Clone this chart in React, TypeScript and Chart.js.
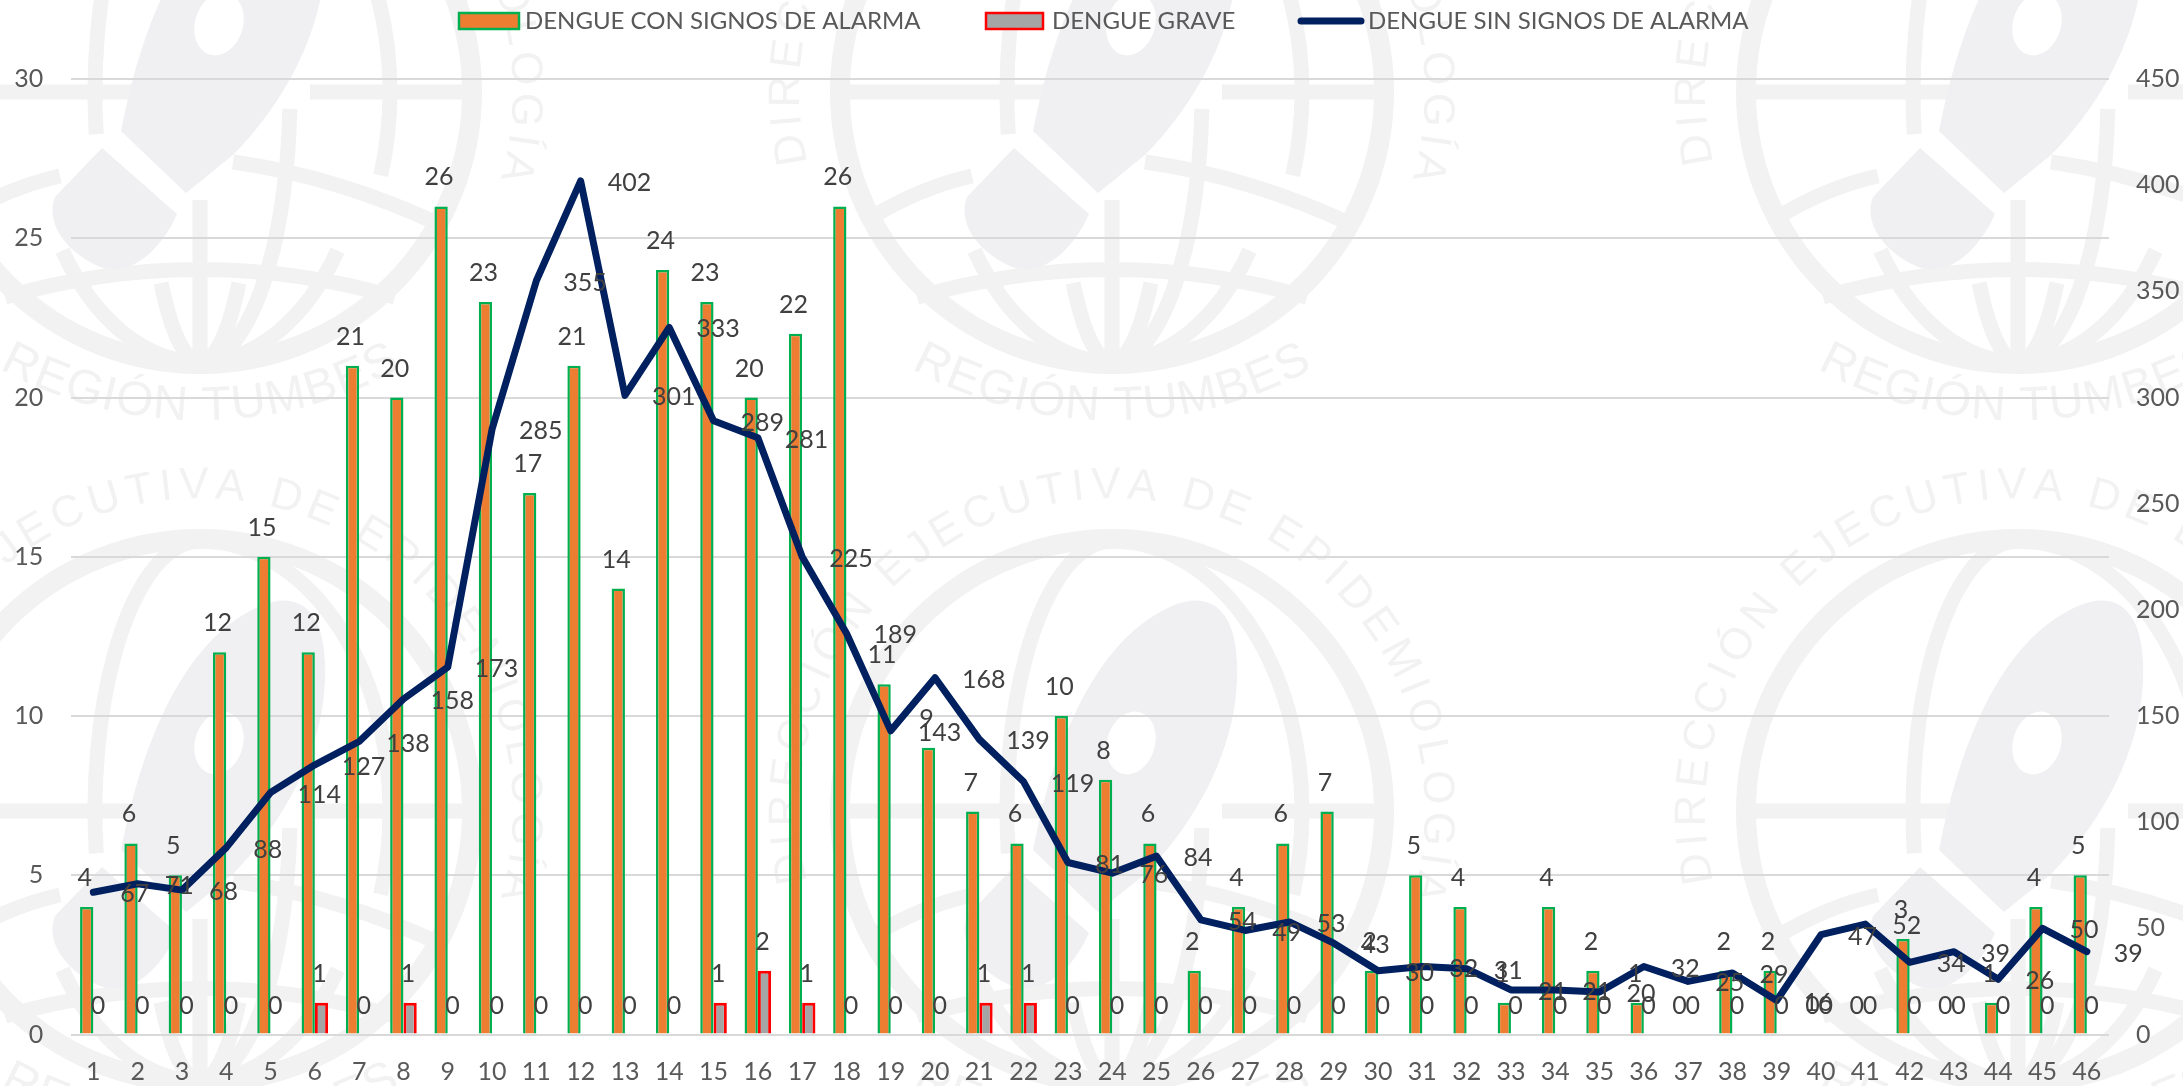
import React, { useEffect, useRef } from "react";
import { Chart, registerables } from "chart.js";

Chart.register(...registerables);

const weeks = Array.from({ length: 46 }, (_, i) => String(i + 1));
const conSignos = [4, 6, 5, 12, 15, 12, 21, 20, 26, 23, 17, 21, 14, 24, 23, 20, 22, 26, 11, 9, 7, 6, 10, 8, 6, 2, 4, 6, 7, 2, 5, 4, 1, 4, 2, 1, 0, 2, 2, 0, 0, 3, 0, 1, 4, 5];
const grave = [0, 0, 0, 0, 0, 1, 0, 1, 0, 0, 0, 0, 0, 0, 1, 2, 1, 0, 0, 0, 1, 1, 0, 0, 0, 0, 0, 0, 0, 0, 0, 0, 0, 0, 0, 0, 0, 0, 0, 0, 0, 0, 0, 0, 0, 0];
const sinSignos = [67, 71, 68, 88, 114, 127, 138, 158, 173, 285, 355, 402, 301, 333, 289, 281, 225, 189, 143, 168, 139, 119, 81, 76, 84, 54, 49, 53, 43, 30, 32, 31, 21, 21, 20, 32, 25, 29, 16, 47, 52, 34, 39, 26, 50, 39];

const FONT = "Lato, 'Open Sans', sans-serif";
const TEXT = "#595959";
const LABEL = "#404040";
const WM = "#f2f2f3";
const WM_BLOB = "#f0f0f2";
const ORANGE = "#ed7d31";
const GREEN = "#00b050";
const GRAY = "#a5a5a5";
const RED = "#ff0000";
const NAVY = "#002060";

function arcText(ctx: CanvasRenderingContext2D, text: string, cx: number, cy: number, r: number, startDeg: number, endDeg: number, bottom: boolean) {
  const chars = [...text];
  const widths = chars.map((c) => ctx.measureText(c).width);
  const total = widths.reduce((a, b) => a + b, 0);
  const span = ((endDeg - startDeg) * Math.PI) / 180;
  const gap = (Math.abs(span) * r - total) / (chars.length - 1);
  let s = 0;
  chars.forEach((c, i) => {
    const mid = s + widths[i] / 2;
    const a = (startDeg * Math.PI) / 180 + (Math.sign(span) * mid) / r;
    ctx.save();
    ctx.translate(cx + r * Math.sin(a), cy - r * Math.cos(a));
    ctx.rotate(bottom ? a + Math.PI : a);
    ctx.fillText(c, 0, 0);
    ctx.restore();
    s += widths[i] + gap;
  });
}

function drawGlobe(ctx: CanvasRenderingContext2D, cx: number, cy: number) {
  const P = Math.PI;
  ctx.save();
  ctx.strokeStyle = WM;
  ctx.fillStyle = WM_BLOB;
  ctx.lineCap = "butt";
  ctx.lineWidth = 20;
  ctx.beginPath();
  ctx.arc(cx, cy, 272, 0, P * 2);
  ctx.stroke();
  ctx.lineWidth = 15;
  ctx.beginPath();
  ctx.moveTo(cx - 270, cy);
  ctx.lineTo(cx - 60, cy);
  ctx.moveTo(cx + 110, cy);
  ctx.lineTo(cx + 270, cy);
  ctx.moveTo(cx, cy + 108);
  ctx.lineTo(cx, cy + 270);
  ctx.stroke();
  const ellipses: [number, number, number][] = [[105, 0.95, 1.5], [190, 1.5, 2.1], [90, 2.02, 2.5], [170, 0.5, 0.8], [170, 0.2, 0.5], [55, 0.5, 0.75], [55, 0.25, 0.5]];
  ellipses.forEach(([rx, a, b]) => {
    ctx.beginPath();
    ctx.ellipse(cx, cy, rx, 270, 0, a * P, b * P);
    ctx.stroke();
  });
  ctx.beginPath();
  ctx.moveTo(cx - 240, cy + 125);
  ctx.quadraticCurveTo(cx - 190, cy + 95, cx - 140, cy + 84);
  ctx.moveTo(cx + 33, cy + 70);
  ctx.quadraticCurveTo(cx + 140, cy + 85, cx + 245, cy + 135);
  ctx.moveTo(cx - 195, cy + 205);
  ctx.quadraticCurveTo(cx, cy + 150, cx + 195, cy + 205);
  ctx.stroke();
  ctx.beginPath();
  ctx.moveTo(cx - 79, cy + 39);
  ctx.bezierCurveTo(cx - 60, cy - 60, cx - 20, cy - 170, cx + 60, cy - 205);
  ctx.bezierCurveTo(cx + 100, cy - 222, cx + 128, cy - 200, cx + 125, cy - 130);
  ctx.bezierCurveTo(cx + 122, cy - 60, cx + 85, cy + 10, cx + 33, cy + 63);
  ctx.lineTo(cx - 14, cy + 101);
  ctx.closePath();
  ctx.fill();
  ctx.beginPath();
  ctx.moveTo(cx - 98, cy + 56);
  ctx.lineTo(cx - 23, cy + 122);
  ctx.bezierCurveTo(cx - 40, cy + 160, cx - 70, cy + 185, cx - 100, cy + 175);
  ctx.bezierCurveTo(cx - 135, cy + 160, cx - 155, cy + 130, cx - 145, cy + 105);
  ctx.closePath();
  ctx.fill();
  ctx.fillStyle = "#ffffff";
  ctx.beginPath();
  ctx.ellipse(cx + 19, cy - 68, 24, 32, 0.3, 0, P * 2);
  ctx.fill();
  ctx.fillStyle = WM;
  ctx.textAlign = "center";
  ctx.textBaseline = "middle";
  ctx.font = "44px 'Liberation Sans'";
  arcText(ctx, "DIRECCIÓN EJECUTIVA DE EPIDEMIOLOGÍA", cx, cy, 325, -103, 106, false);
  ctx.font = "48px 'Liberation Sans'";
  arcText(ctx, "REGIÓN TUMBES", cx, cy - 87, 402, 209, 151, true);
  ctx.restore();
}

const watermarkPlugin = {
  id: "watermark",
  beforeDraw(chart: any) {
    const ctx = chart.ctx;
    ctx.save();
    ctx.fillStyle = "#ffffff";
    ctx.fillRect(0, 0, chart.width, chart.height);
    for (const cy of [92, 811]) {
      for (const cx of [200, 1112, 2018]) drawGlobe(ctx, cx, cy);
    }
    ctx.restore();
  },
};

const valueLabelPlugin = {
  id: "valueLabels",
  afterDatasetsDraw(chart: any) {
    const ctx = chart.ctx;
    ctx.save();
    ctx.font = `25px ${FONT}`;
    ctx.fillStyle = LABEL;
    ctx.textBaseline = "middle";
    chart.data.datasets.forEach((ds: any, di: number) => {
      const meta = chart.getDatasetMeta(di);
      meta.data.forEach((el: any, i: number) => {
        const text = String(ds.data[i]);
        if (ds.type === "line") {
          ctx.textAlign = "left";
          ctx.fillText(text, el.x + 27, el.y + 2);
        } else {
          ctx.textAlign = "center";
          ctx.fillText(text, el.x - 2, el.y - 29);
        }
      });
    });
    ctx.restore();
  },
};

const legendPlugin = {
  id: "ownLegend",
  afterDraw(chart: any) {
    const ctx = chart.ctx;
    const rows: [number, number, number][] = [[459, 60, 525], [986, 57, 1052], [1298, 66, 1368]];
    const y = 21;
    ctx.save();
    ctx.font = `24px ${FONT}`;
    ctx.textBaseline = "middle";
    ctx.textAlign = "left";
    chart.data.datasets.forEach((ds: any, i: number) => {
      const [x, w, tx] = rows[i];
      if (ds.type === "line") {
        ctx.strokeStyle = ds.borderColor;
        ctx.lineWidth = ds.borderWidth;
        ctx.lineCap = "round";
        ctx.beginPath();
        ctx.moveTo(x + 3, y);
        ctx.lineTo(x + w - 3, y);
        ctx.stroke();
      } else {
        ctx.fillStyle = ds.backgroundColor;
        ctx.strokeStyle = ds.legendBorder;
        ctx.lineWidth = 2.5;
        ctx.fillRect(x, y - 8, w, 16);
        ctx.strokeRect(x, y - 8, w, 16);
      }
      ctx.fillStyle = TEXT;
      ctx.fillText(ds.label, tx, y);
    });
    ctx.restore();
  },
};

export default function App() {
  const ref = useRef<HTMLCanvasElement>(null);
  useEffect(() => {
    const chart = new Chart(ref.current!, {
      data: {
        labels: weeks,
        datasets: [
          {
            type: "bar",
            label: "DENGUE CON SIGNOS DE ALARMA",
            data: conSignos,
            backgroundColor: ORANGE,
            borderColor: GREEN,
            legendBorder: GREEN,
            borderWidth: (c: any) => (c.raw === 0 ? 0 : 2.5),
            yAxisID: "y",
            order: 1,
            categoryPercentage: 0.6,
            barPercentage: 1,
          },
          {
            type: "bar",
            label: "DENGUE GRAVE",
            data: grave,
            backgroundColor: GRAY,
            borderColor: RED,
            legendBorder: RED,
            borderWidth: (c: any) => (c.raw === 0 ? 0 : 3),
            yAxisID: "y",
            order: 2,
            categoryPercentage: 0.6,
            barPercentage: 1,
          },
          {
            type: "line",
            label: "DENGUE SIN SIGNOS DE ALARMA",
            data: sinSignos,
            borderColor: NAVY,
            backgroundColor: NAVY,
            borderWidth: 7,
            pointRadius: 0,
            tension: 0,
            borderJoinStyle: "round",
            borderCapStyle: "round",
            yAxisID: "y1",
            order: 0,
          },
        ],
      } as any,
      options: {
        responsive: false,
        animation: false,
        devicePixelRatio: 1,
        layout: { padding: { top: 79, left: 0, right: 0, bottom: 0 } },
        plugins: { legend: { display: false }, title: { display: false }, tooltip: { enabled: false } },
        scales: {
          x: {
            grid: { display: false },
            border: { display: false },
            ticks: { color: TEXT, font: { family: FONT, size: 25 }, padding: 14, maxRotation: 0, autoSkip: false },
            afterFit: (s: any) => { s.height = 51.5; },
          },
          y: {
            position: "left",
            min: 0,
            max: 30,
            grid: { color: "#d9d9d9", lineWidth: 2, drawTicks: false },
            border: { display: false },
            ticks: { stepSize: 5, color: TEXT, font: { family: FONT, size: 25 }, padding: 28 },
            afterFit: (s: any) => { s.width = 71.2; },
          },
          y1: {
            position: "right",
            min: 0,
            max: 450,
            grid: { display: false, drawTicks: false },
            border: { display: false },
            ticks: { stepSize: 50, color: TEXT, font: { family: FONT, size: 25 }, padding: 27 },
            afterFit: (s: any) => { s.width = 74; },
          },
        },
      },
      plugins: [watermarkPlugin, valueLabelPlugin, legendPlugin],
    } as any);
    return () => chart.destroy();
  }, []);
  return (
    <div style={{ position: "fixed", left: 0, top: 0, width: 2183, height: 1086 }}>
      <canvas ref={ref} width={2183} height={1086} style={{ display: "block" }} />
    </div>
  );
}
